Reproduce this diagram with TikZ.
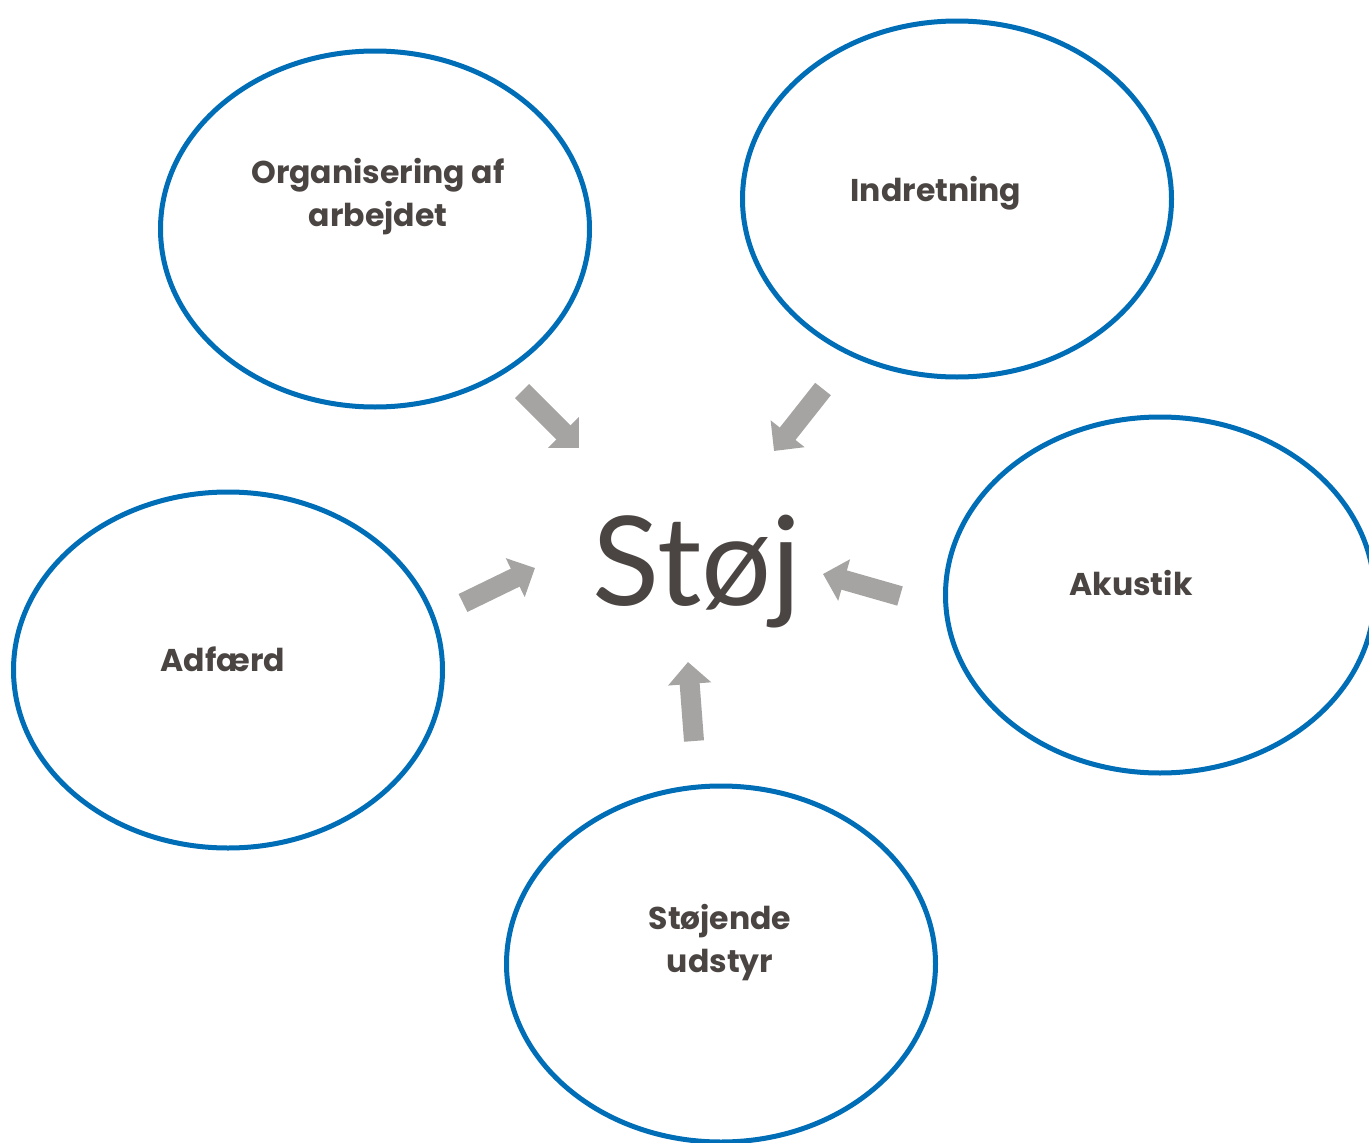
\documentclass[tikz,border=0pt]{standalone}
\usepackage{fontspec}
\setmainfont{Poppins}
\newfontfamily\stojfont{Lato}
\usetikzlibrary{arrows.meta,shapes.geometric}
\definecolor{ringblue}{HTML}{006DB7}
\definecolor{arrowgray}{HTML}{A5A4A2}
\definecolor{textgray}{HTML}{4A4542}
\tikzset{
  ring/.style={draw=ringblue, line width=5pt, ellipse, inner sep=0pt,
    minimum width=429pt, minimum height=356pt},
  lbl/.style={text=textgray, font=\fontsize{31.5}{43}\selectfont\bfseries, align=center},
  blockarrow/.style={draw=arrowgray, line width=20pt,
    -{Triangle[length=22pt,width=42pt,fill=arrowgray]}},
}
\begin{document}
\begin{tikzpicture}[x=1pt,y=-1pt]
\useasboundingbox (0,0) rectangle (1369,1143);
\begin{scope}
\clip (0,0) rectangle (1369,1143);
\node[ring] (org) at (375,229) {};
\node[ring] (ind) at (957,199) {};
\node[ring] (aku) at (1160,595) {};
\node[ring] (adf) at (228,670) {};
\node[ring] (uds) at (721,964) {};
\end{scope}
\node[lbl] (torg) at (378,197) {Organisering af\\arbejdet};
\node[lbl] (tind) at (936,193) {Indretning};
\node[lbl] (taku) at (1131,583) {Akustik};
\node[lbl] (tadf) at (223,659) {Adfærd};
\node[lbl] (tuds) at (720,943) {Støjende\\udstyr};
\node[text=textgray, font=\stojfont\fontsize{124}{130}\selectfont] (stoj) at (697,572) {Støj};
\coordinate (a1t) at (522,391); \coordinate (a1h) at (579,448);
\coordinate (a2t) at (823,389); \coordinate (a2h) at (774,451);
\coordinate (a3t) at (463,603); \coordinate (a3h) at (535,568);
\coordinate (a4t) at (900,596); \coordinate (a4h) at (823,574);
\coordinate (a5t) at (694,741); \coordinate (a5h) at (688,662);
\draw[blockarrow] (a1t) -- (a1h);
\draw[blockarrow] (a2t) -- (a2h);
\draw[blockarrow] (a3t) -- (a3h);
\draw[blockarrow] (a4t) -- (a4h);
\draw[blockarrow] (a5t) -- (a5h);
\end{tikzpicture}
\end{document}
